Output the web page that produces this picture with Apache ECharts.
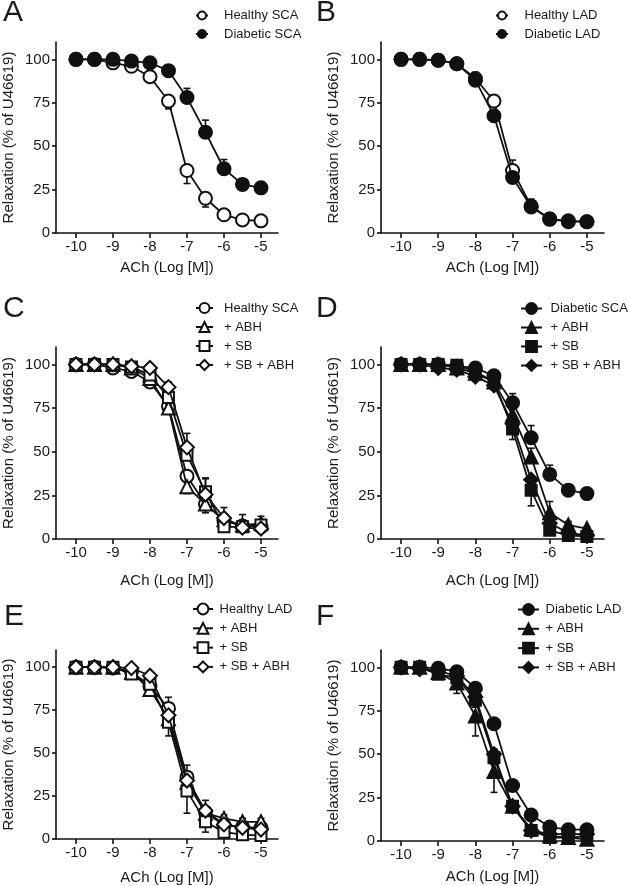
<!DOCTYPE html>
<html><head><meta charset="utf-8">
<script src="https://cdn.jsdelivr.net/npm/echarts@6/dist/echarts.min.js"></script>
<style>html,body{margin:0;padding:0;background:#fff}#c{width:629px;height:886px}</style>
</head><body><div id="c"></div><script>
// ---------- data ----------
const xValues = [-10, -9.5, -9, -8.5, -8, -7.5, -7, -6.5, -6, -5.5, -5];
const xTicks = [-10, -9, -8, -7, -6, -5];
const yTicks = [0, 25, 50, 75, 100];
const xTitle = 'ACh (Log [M])';
const yTitle = 'Relaxation (% of U46619)';

// Panel A
const aHealthySCA = [100, 100, 98, 96, 90, 76, 36, 20, 10.5, 7.5, 7];
const aHealthySCAErr = [0, 0, 0, 1, 2, 4.5, 7.5, 5, 0.5, 0.5, 0.5];
const aDiabeticSCA = [100, 100, 100, 99, 98, 93.5, 78, 58, 37, 28, 26];
const aDiabeticSCAErr = [0, 0, 0, 0.5, 1, 1.5, 5.3, 7, 5.3, 3, 1];
// Panel B
const bHealthyLAD = [100, 100, 99.5, 97.5, 89, 76, 36, 15.5, 8, 7, 6.5];
const bHealthyLADErr = [0, 0, 0, 1, 3.5, 3.5, 6, 4, 3.5, 1, 1];
const bDiabeticLAD = [100, 100, 99.5, 97.5, 88, 67.5, 32, 15, 8, 6.5, 6.5];
const bDiabeticLADErr = [0, 0, 0, 1, 2, 3, 3, 2, 1, 1, 1];
// Panel C
const cHealthySCA = [100, 100, 98, 96, 90, 76, 36, 20, 10.5, 7.5, 7];
const cHealthySCAErr = [0, 0, 0, 1, 2, 4.5, 7.5, 5, 0.5, 0.5, 0.5];
const cABH = [100, 100, 100, 98, 92, 75, 30, 20, 11, 8, 9];
const cABHErr = [0, 0, 0, 0, 2, 3, 4, 3, 2, 1, 1];
const cSB = [100, 100, 100, 98.5, 94, 81, 48, 27, 7, 7, 8];
const cSBErr = [0, 0, 0, 0, 1, 3, 5, 8, 3, 2, 2];
const cSBABH = [100, 100, 100, 99, 98, 87, 52.5, 25.5, 12, 6.5, 6];
const cSBABHErr = [0, 0, 0, 0, 1, 3, 8, 9, 6, 7.5, 7];
// Panel D
const dDiabeticSCA = [100, 100, 100, 99, 98, 93.5, 78, 58, 37, 28, 26];
const dDiabeticSCAErr = [0, 0, 0, 0.5, 1, 1.5, 5.3, 7, 5.3, 3, 1];
const dABH = [100, 100, 100, 98, 95, 90, 71, 47, 15, 8, 6];
const dABHErr = [0, 0, 0, 1, 2, 2, 4, 5, 6.5, 2, 1];
const dSB = [100, 100, 100, 99.5, 96, 90, 63, 28, 5, 2, 1.5];
const dSBErr = [0, 0, 0, 1, 2, 3, 6, 9, 2, 1, 1];
const dSBABH = [100, 100, 98, 97, 93, 88, 66, 34, 9, 3.5, 2];
const dSBABHErr = [0, 0, 1, 1, 2, 2, 4, 5, 2, 1, 1];
// Panel E
const eHealthyLAD = [100, 100, 99.5, 97.5, 89, 76, 36, 15.5, 8, 7, 6.5];
const eHealthyLADErr = [0, 0, 0, 1, 2, 6.5, 7, 7, 3, 2, 1];
const eABH = [100, 100, 100, 97, 87, 70, 33, 15, 12, 10, 10];
const eABHErr = [0, 0, 0, 1, 2, 4, 5, 4, 2, 2, 2];
const eSB = [100, 100, 100, 96, 90, 68, 28, 10, 4, 2.5, 2];
const eSBErr = [0, 0, 0, 1, 3, 8, 13, 6, 3, 2, 2];
const eSBABH = [100, 100, 100, 99.5, 95, 72, 34, 16.5, 8.5, 6.5, 5.5];
const eSBABHErr = [0, 0, 0, 0, 2, 4, 4, 4, 2, 2, 2];
// Panel F
const fDiabeticLAD = [100, 100, 99.5, 97.5, 88, 67.5, 32, 15, 8, 6.5, 6.5];
const fDiabeticLADErr = [0, 0, 0, 1, 2, 2, 3, 2, 1, 1, 1];
const fABH = [100, 100, 97, 91, 72, 40, 20, 7, 3, 2, 1];
const fABHErr = [0, 0, 1, 6, 11.5, 12, 3.5, 2, 1, 1, 1];
const fSB = [100, 100, 96, 94, 81, 48, 20, 6, 2, 2, 3];
const fSBErr = [0, 0, 2, 3, 4, 4, 3, 2, 1, 1, 1];
const fSBABH = [100, 99, 98, 95, 83, 50, 20, 6, 4, 4, 4];
const fSBABHErr = [0, 3, 2, 2, 3, 3, 3, 2, 1, 1, 1];

const panels = [
  {letter: 'A', series: [
    {name: 'Healthy SCA', values: aHealthySCA, err: aHealthySCAErr, dir: -1, symbol: 'circle', filled: false},
    {name: 'Diabetic SCA', values: aDiabeticSCA, err: aDiabeticSCAErr, dir: 1, symbol: 'circle', filled: true}]},
  {letter: 'B', series: [
    {name: 'Healthy LAD', values: bHealthyLAD, err: bHealthyLADErr, dir: 1, symbol: 'circle', filled: false},
    {name: 'Diabetic LAD', values: bDiabeticLAD, err: bDiabeticLADErr, dir: -1, symbol: 'circle', filled: true}]},
  {letter: 'C', series: [
    {name: 'Healthy SCA', values: cHealthySCA, err: cHealthySCAErr, dir: -1, symbol: 'circle', filled: false},
    {name: '+ ABH', values: cABH, err: cABHErr, dir: -1, symbol: 'triangle', filled: false},
    {name: '+ SB', values: cSB, err: cSBErr, dir: 1, symbol: 'rect', filled: false},
    {name: '+ SB + ABH', values: cSBABH, err: cSBABHErr, dir: 1, symbol: 'diamond', filled: false}]},
  {letter: 'D', series: [
    {name: 'Diabetic SCA', values: dDiabeticSCA, err: dDiabeticSCAErr, dir: 1, symbol: 'circle', filled: true},
    {name: '+ ABH', values: dABH, err: dABHErr, dir: 1, symbol: 'triangle', filled: true},
    {name: '+ SB', values: dSB, err: dSBErr, dir: -1, symbol: 'rect', filled: true},
    {name: '+ SB + ABH', values: dSBABH, err: dSBABHErr, dir: -1, symbol: 'diamond', filled: true}]},
  {letter: 'E', series: [
    {name: 'Healthy LAD', values: eHealthyLAD, err: eHealthyLADErr, dir: 1, symbol: 'circle', filled: false},
    {name: '+ ABH', values: eABH, err: eABHErr, dir: 1, symbol: 'triangle', filled: false},
    {name: '+ SB', values: eSB, err: eSBErr, dir: -1, symbol: 'rect', filled: false},
    {name: '+ SB + ABH', values: eSBABH, err: eSBABHErr, dir: -1, symbol: 'diamond', filled: false}]},
  {letter: 'F', series: [
    {name: 'Diabetic LAD', values: fDiabeticLAD, err: fDiabeticLADErr, dir: 1, symbol: 'circle', filled: true},
    {name: '+ ABH', values: fABH, err: fABHErr, dir: -1, symbol: 'triangle', filled: true},
    {name: '+ SB', values: fSB, err: fSBErr, dir: -1, symbol: 'rect', filled: true},
    {name: '+ SB + ABH', values: fSBABH, err: fSBABHErr, dir: 1, symbol: 'diamond', filled: true}]}
];

// ---------- layout / style ----------
const layout = [
  {grid: {left: 54, top: 42, width: 224, height: 191}, xGap: 27.5, letter: [3, 12.5],
   legend: {left: 195, top: 9, w: 12, h: 10, gap: 5.5, pad: 11}},
  {grid: {left: 381, top: 42, width: 223, height: 191}, xGap: 27.5, letter: [316, 12.5],
   legend: {left: 495, top: 9, w: 12, h: 10, gap: 5.5, pad: 11.5}},
  {grid: {left: 54, top: 347, width: 224, height: 192}, xGap: 34, letter: [3, 309],
   legend: {left: 195, top: 301.5, w: 17, h: 12.5, gap: 6, pad: 6}},
  {grid: {left: 381, top: 347, width: 223, height: 192}, xGap: 34, letter: [316, 309],
   legend: {left: 520, top: 302, w: 21, h: 13.5, gap: 6, pad: 3.5}},
  {grid: {left: 54, top: 650, width: 224, height: 191}, xGap: 31, letter: [4, 617],
   legend: {left: 192, top: 602.5, w: 20, h: 13.5, gap: 6.3, pad: 1.5}},
  {grid: {left: 381, top: 650, width: 223, height: 191}, xGap: 28, letter: [316, 617],
   legend: {left: 517, top: 603, w: 21, h: 13.5, gap: 6.3, pad: 1.5}}
];
const INK = '#111';
const FONT = '"Liberation Sans", Arial, Helvetica, sans-serif';
const symSize = {circle: 13, triangle: 13, rect: 11, diamond: 14};

const grids = [], xAxes = [], yAxes = [], series = [], legends = [], graphics = [];

function errRender(params, api) {
  const x = api.value(0), y = api.value(1), e = api.value(2);
  const p0 = api.coord([x, y]);
  const p1 = api.coord([x, e]);
  const cw = 3.5;
  return {
    type: 'group',
    children: [
      {type: 'line', shape: {x1: p0[0], y1: p0[1], x2: p1[0], y2: p1[1]}, style: {stroke: INK, lineWidth: 1.6}},
      {type: 'line', shape: {x1: p1[0] - cw, y1: p1[1], x2: p1[0] + cw, y2: p1[1]}, style: {stroke: INK, lineWidth: 1.6}}
    ]
  };
}

panels.forEach((p, i) => {
  const L = layout[i];
  grids.push(Object.assign({}, L.grid));
  xAxes.push({
    type: 'value', gridIndex: i, min: -10.54, max: -4.54,
    name: xTitle, nameLocation: 'middle', nameGap: L.xGap,
    nameTextStyle: {fontFamily: FONT, fontSize: 15, color: '#1a1a1a'},
    axisLine: {show: true, onZero: false, lineStyle: {color: INK, width: 1.6}},
    axisTick: {show: true, length: 5, lineStyle: {color: INK, width: 1.6}, customValues: xTicks},
    axisLabel: {fontFamily: FONT, fontSize: 15, color: '#1a1a1a', margin: 6, customValues: xTicks},
    splitLine: {show: false}
  });
  yAxes.push({
    type: 'value', gridIndex: i, min: 0, max: 110,
    name: yTitle, nameLocation: 'middle', nameGap: 40,
    nameTextStyle: {fontFamily: FONT, fontSize: 15, color: '#1a1a1a'},
    axisLine: {show: true, onZero: false, lineStyle: {color: INK, width: 1.6}},
    axisTick: {show: true, length: 4, lineStyle: {color: INK, width: 1.6}, customValues: yTicks},
    axisLabel: {fontFamily: FONT, fontSize: 15, color: '#1a1a1a', margin: 6, customValues: yTicks},
    splitLine: {show: false}
  });
  const names = [];
  p.series.forEach((s, k) => {
    const id = s.name + '|' + p.letter;
    names.push(id);
    series.push({
      type: 'custom', name: id + '|err', xAxisIndex: i, yAxisIndex: i, z: 1,
      renderItem: errRender, silent: true,
      encode: {x: 0, y: [1, 2]},
      data: xValues.map((x, j) => [x, s.values[j], s.values[j] + s.dir * s.err[j]]).filter((d, j) => s.err[j] > 0)
    });
    series.push({
      type: 'line', name: id, xAxisIndex: i, yAxisIndex: i, z: 3 + k,
      data: xValues.map((x, j) => [x, s.values[j]]),
      symbol: s.symbol, symbolSize: symSize[s.symbol], showAllSymbol: true,
      color: INK,
      lineStyle: {color: INK, width: 1.8},
      itemStyle: {color: s.filled ? INK : '#fff', borderColor: INK, borderWidth: 2},
      emphasis: {disabled: true}, animation: false
    });
  });
  legends.push({
    orient: 'vertical', left: L.legend.left, top: L.legend.top, padding: 0,
    itemWidth: L.legend.w, itemHeight: L.legend.h, itemGap: L.legend.gap,
    data: names, selectedMode: false,
    formatter: n => n.split('|')[0],
    textStyle: {fontFamily: FONT, fontSize: 13, color: '#1a1a1a', padding: [0, 0, 0, L.legend.pad]}
  });
  graphics.push({
    type: 'text', x: L.letter[0], y: L.letter[1],
    style: {text: p.letter, font: '30px ' + FONT, fill: '#1a1a1a', verticalAlign: 'middle', align: 'left'}
  });
});

const chart = echarts.init(document.getElementById('c'), null, {renderer: 'canvas'});
chart.setOption({
  animation: false,
  backgroundColor: '#fff',
  grid: grids, xAxis: xAxes, yAxis: yAxes, series: series, legend: legends,
  graphic: {elements: graphics}
});
</script></body></html>
